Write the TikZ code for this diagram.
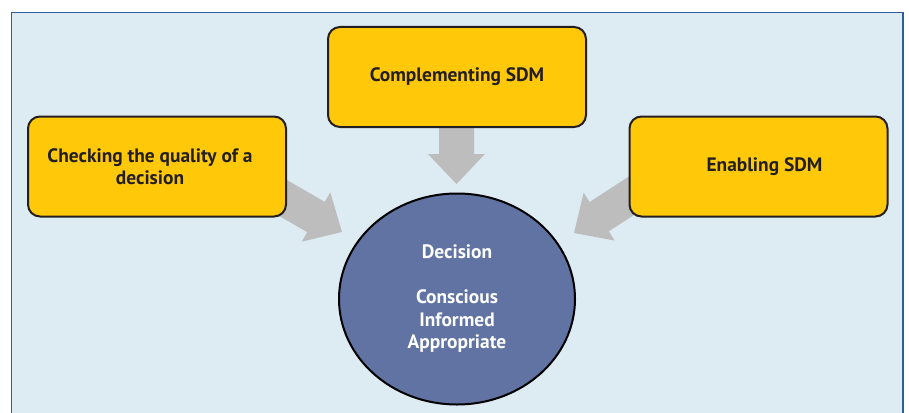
\documentclass[tikz,border=0pt]{standalone}
\usepackage{fontspec}
\setmainfont{PT Sans}
\usetikzlibrary{calc,shapes.geometric}
\definecolor{bgblue}{HTML}{DDEBF3}
\definecolor{framecol}{HTML}{2F5D9C}
\definecolor{boxyellow}{HTML}{FFC90A}
\definecolor{ellblue}{HTML}{6073A3}
\definecolor{arrowgray}{HTML}{BDBDBD}
\definecolor{textdark}{HTML}{231F20}
\tikzset{
  ybox/.style={draw=textdark, line width=2pt, fill=boxyellow, rounded corners=12pt,
    minimum width=258pt, minimum height=100pt, inner sep=0pt, align=center,
    font=\bfseries\fontsize{19.4}{21.5}\selectfont, text=textdark},
  decell/.style={ellipse, draw=black, line width=2pt, fill=ellblue, minimum width=236pt,
    minimum height=211pt, inner sep=0pt, align=center,
    font=\bfseries\fontsize{19.4}{22.5}\selectfont, text=white},
  blockarrow/.style={fill=arrowgray, draw=none}
}
\newcommand\blkarrow[2]{%
  \fill[blockarrow]
    ($(#1)!17.5pt!90:(#2)$) --
    ($($(#2)!30pt!(#1)$)!17.5pt!-90:(#1)$) --
    ($($(#2)!30pt!(#1)$)!28.5pt!-90:(#1)$) --
    (#2) --
    ($($(#2)!30pt!(#1)$)!28.5pt!90:(#1)$) --
    ($($(#2)!30pt!(#1)$)!17.5pt!90:(#1)$) --
    ($(#1)!17.5pt!-90:(#2)$) -- cycle;}
\begin{document}
\begin{tikzpicture}[x=1pt,y=-1pt]
\useasboundingbox (0,0) rectangle (909,412);
\clip (0,0) rectangle (909,412);
\draw[framecol, line width=1.2pt, fill=bgblue] (11.5,12.5) rectangle (903,430);
% arrow anchor coordinates
\coordinate (ltail) at (264,187);
\coordinate (ltip) at (342,232);
\coordinate (ttail) at (456.5,100);
\coordinate (ttip) at (456.5,184);
\coordinate (rtail) at (649.5,184);
\coordinate (rtip) at (574,233);
\blkarrow{ltail}{ltip}
\blkarrow{ttail}{ttip}
\blkarrow{rtail}{rtip}
% boxes
\node[ybox] (check) at (157,166.5) {\hspace*{-14pt}Checking the quality of a\\\hspace*{-14pt}decision};
\node[ybox] (compl) at (457,77) {Complementing SDM};
\node[ybox] (enab) at (758.5,166.5) {\hspace*{12pt}Enabling SDM};
\node[decell] (dec) at (457,299) {Decision\\[22.5pt]Conscious\\Informed\\Appropriate};
\end{tikzpicture}
\end{document}
